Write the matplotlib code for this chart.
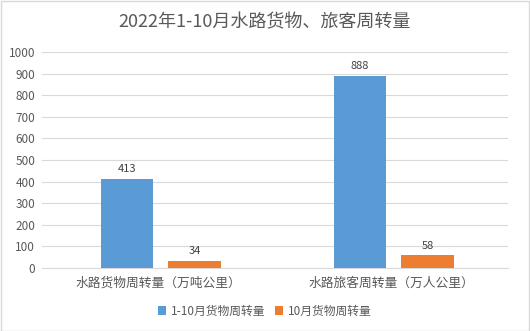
import matplotlib
matplotlib.use("Agg")
import matplotlib.pyplot as plt
import numpy as np

plt.rcParams['font.family'] = ['Noto Sans CJK SC', 'DejaVu Sans']

categories = ["水路货物周转量（万吨公里）", "水路旅客周转量（万人公里）"]
series_names = ["1-10月货物周转量", "10月货物周转量"]
ytd_values = [413, 888]
october_values = [34, 58]
y_ticks = [0, 100, 200, 300, 400, 500, 600, 700, 800, 900, 1000]

blue = "#5B9BD5"
orange = "#ED7D31"
text_gray = "#595959"
grid_gray = "#D9D9D9"

fig = plt.figure(figsize=(5.3, 3.31), dpi=100)
fig.patch.set_facecolor("white")
ax = fig.add_axes([42 / 530, 1 - 268 / 331, 466 / 530, 216 / 331])

x = np.arange(len(categories))
width = 0.227
off = 0.145
b1 = ax.bar(x - off + 0.01, ytd_values, width, color=blue, label=series_names[0], zorder=3)
b2 = ax.bar(x + off + 0.01, october_values, width, color=orange, label=series_names[1], zorder=3)

for bars, vals in ((b1, ytd_values), (b2, october_values)):
    for r, v in zip(bars, vals):
        ax.text(r.get_x() + r.get_width() / 2, v + 22, f"{v}", ha="center", va="bottom",
                fontsize=8, color="#404040")

ax.set_xlim(-0.5, 1.5)
ax.set_ylim(0, 1000)
ax.set_yticks(y_ticks)
ax.set_yticklabels([str(t) for t in y_ticks], fontsize=8.5, color=text_gray)
ax.set_xticks(x)
ax.set_xticklabels(categories, fontsize=9.2, color=text_gray)
ax.tick_params(axis="both", length=0)
ax.tick_params(axis="y", pad=5)
ax.tick_params(axis="x", pad=6)
ax.yaxis.grid(True, color=grid_gray, linewidth=0.8, zorder=0)
for s in ("top", "right", "left"):
    ax.spines[s].set_visible(False)
ax.spines["bottom"].set_color(grid_gray)
ax.spines["bottom"].set_linewidth(0.8)

fig.text(0.5, 1 - 22 / 331, "2022年1-10月水路货物、旅客周转量", ha="center", va="center",
         fontsize=13, color=text_gray)

fig.legend(handles=[b1, b2], labels=series_names, loc="center", bbox_to_anchor=(0.5, 1 - 311 / 331),
           ncol=2, frameon=False, fontsize=8.5, handlelength=0.7, handleheight=0.7,
           handletextpad=0.4, columnspacing=0.8, labelcolor=text_gray)

fig.add_artist(plt.Rectangle((0.001, 0.001), 0.998, 0.997, transform=fig.transFigure,
                             fill=False, edgecolor="#D9D9D9", linewidth=1))

fig.savefig("out.png", dpi=100, facecolor="white")
